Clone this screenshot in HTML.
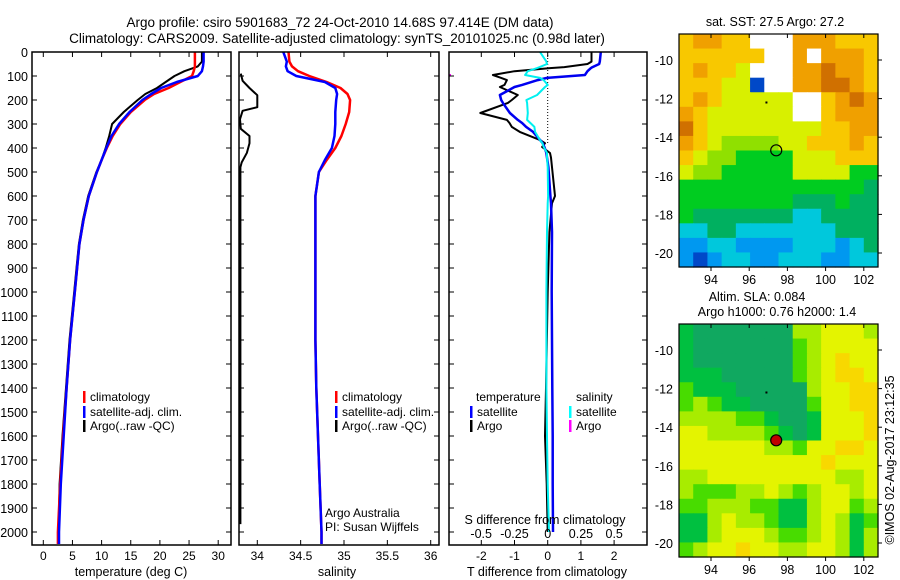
<!DOCTYPE html>
<html><head><meta charset="utf-8"><style>
body{margin:0;background:#fff;}
svg{display:block;font-family:"Liberation Sans",sans-serif;}
text{fill:#000;}
</style></head><body>
<svg id="fig" width="900" height="580" viewBox="0 0 900 580">
<text x="340" y="27" font-size="13.5" text-anchor="middle">Argo profile: csiro 5901683_72 24-Oct-2010 14.68S 97.414E (DM data)</text>
<text x="337" y="43" font-size="13.5" text-anchor="middle">Climatology: CARS2009. Satellite-adjusted climatology: synTS_20101025.nc (0.98d later)</text>
</svg>
<script>
// ---------- data ----------
const depths = [0,40,60,80,100,125,150,175,200,250,300,350,400,450,500,600,700,800,900,1000,1200,1400,1600,1800,2000,2050];
const tempClim = [26.0,26.0,26.0,25.8,25.5,23.5,21.5,19.0,17.4,15.0,13.2,11.9,10.9,10.0,9.2,7.8,6.9,6.2,5.8,5.4,4.6,4.0,3.4,2.9,2.5,2.5];
const tempSat = [27.5,27.5,27.4,27.2,26.5,22.9,20.2,18.5,17.0,14.8,13.0,11.7,10.8,10.0,9.2,7.8,6.9,6.2,5.8,5.4,4.6,4.0,3.5,3.0,2.7,2.7];
const tempArgo = [27.2,27.2,26.5,24.2,22.5,21.0,19.5,17.5,16.2,13.8,11.8,11.3,10.7,10.0,9.1,7.7,6.8,6.1,5.7,5.3,4.5,3.9,3.3,2.8,2.6,2.6];
const salClim = [34.36,34.37,34.40,34.47,34.60,34.80,34.96,35.04,35.07,35.06,35.02,34.97,34.90,34.80,34.71,34.67,34.67,34.67,34.67,34.67,34.67,34.68,34.70,34.72,34.74,34.74];
const salSat = [34.30,34.34,34.33,34.35,34.45,34.78,34.90,34.92,34.91,34.90,34.90,34.89,34.86,34.78,34.71,34.67,34.67,34.67,34.67,34.67,34.67,34.68,34.70,34.72,34.74,34.74];
const salArgoDepths = [90,120,150,180,230,245,280,320,350,380,420,460,480,1000,1500,1967];
const salArgo = [33.81,33.83,33.91,34.0,34.0,33.83,33.80,33.81,33.91,33.91,33.88,33.82,33.805,33.805,33.805,33.805];
const diffDepths = [0,40,50,63,67,80,96,108,117,137,146,179,200,212,254,283,296,312,333,367,380,396,421,440,480,600,630,750,1000,1400,1600,1800,2000];
const dTArgo = [1.32,1.32,1.2,0.5,0.07,-1.0,-1.65,-1.4,-1.23,-1.3,-1.44,-0.9,-1.08,-1.2,-2.03,-1.23,-1.15,-1.08,-0.84,-0.23,-0.08,-0.17,0.07,0.1,0.13,0.22,0.13,0.05,0.0,-0.05,-0.08,-0.03,0.0];
const dTSat = [1.6,1.57,1.55,1.35,1.3,1.2,1.12,-0.02,-0.3,-0.77,-1.0,-1.44,-1.4,-1.35,-1.14,-0.9,-0.77,-0.65,-0.44,-0.23,-0.15,-0.1,-0.04,-0.02,0.02,0.08,0.1,0.13,0.12,0.14,0.15,0.15,0.16];
const dSSat = [-0.058,-0.01,-0.005,-0.06,-0.08,-0.15,-0.17,-0.058,-0.03,0.0,-0.02,-0.08,-0.16,-0.155,-0.15,-0.155,-0.13,-0.1,-0.095,-0.058,-0.04,-0.03,-0.005,-0.005,0.0,0.003,0.0,-0.005,-0.01,-0.01,-0.005,0.0,0.01];
const depthTicks = [0,100,200,300,400,500,600,700,800,900,1000,1100,1200,1300,1400,1500,1600,1700,1800,1900,2000];
const tempTicks = [0,5,10,15,20,25,30];
const salTicks = [34,34.5,35,35.5,36];
const salTickLabels = ["34","34.5","35","35.5","36"];
const dTTicks = [-2,-1,0,1,2];
const dSTicks = [-0.5,-0.25,0,0.25,0.5];
const dSTickLabels = ["-0.5","-0.25","0","0.25","0.5"];
const lonTicks = [94,96,98,100,102];
const latTicks = [-10,-12,-14,-16,-18,-20];
const argoLon = 97.414, argoLat = -14.68;
const sstGrid = [
"78877WWW888777",
"777777WW8W8887",
"78776WWW889887",
"777660WW889987",
"78766666WW7898",
"87666666WW7888",
"97666666667788",
"87655556677787",
"76554444666777",
"65544444666644",
"44444444444443",
"44444444333433",
"43333333223333",
"22332222222333",
"11221111222123",
"10122112221122"];
const slaGrid = [
"10000000334443",
"10000000234444",
"10000000234544",
"11100000234554",
"21110000034455",
"23211000024455",
"33332210014445",
"44333321014445",
"44444433244554",
"44444444445444",
"33444444444334",
"32223343234434",
"22333221134423",
"11343321134312",
"11344432234313",
"23445443344313"];
const sstColors = ["#0048c8","#0098f0","#00c8dc","#00b060","#00cc20","#90e000","#d8f000","#f8c800","#f0a000","#d07000"];
const slaColors = ["#10a860","#00c040","#48dc00","#a8ec00","#e4f400","#f8d800"];

// ---------- helpers ----------
const NS = "http://www.w3.org/2000/svg";
const svg = document.getElementById("fig");
function mk(tag, attrs, parent){const e=document.createElementNS(NS,tag);for(const k in attrs)e.setAttribute(k,attrs[k]);(parent||svg).appendChild(e);return e;}
const Y0 = 52, YS = 0.24, YB = 545;
function yD(d){return Y0 + d*YS;}
const xT = v => 43.3 + v*5.83;
const xS = v => 257.3 + (v-34)*86.7;
const xDT = v => 547.7 + v*33.2;
const xDS = v => 547.7 + v*133;

function panel(name, x0, x1){
  const g = mk("g",{});
  
  
  const cp = mk("clipPath",{id:"clip-"+name},g);
  mk("rect",{x:x0,y:Y0,width:x1-x0,height:YB-Y0},cp);
  return g;
}
function frame(g,x0,x1){
  const r = mk("rect",{x:x0,y:Y0,width:x1-x0,height:YB-Y0,fill:"none",stroke:"#000","stroke-width":1.5},g);
  
  
  depthTicks.forEach(d=>{
    mk("line",{x1:x0,x2:x0+5,y1:yD(d),y2:yD(d),stroke:"#000"},g);
    mk("line",{x1:x1,x2:x1-5,y1:yD(d),y2:yD(d),stroke:"#000"},g);
  });
}
function xticks(g,vals,labels,fx,ylab,name){
  vals.forEach((v,i)=>{
    const x=fx(v);
    mk("line",{x1:x,x2:x,y1:YB,y2:YB-5,stroke:"#000"},g);
    mk("line",{x1:x,x2:x,y1:Y0,y2:Y0+5,stroke:"#000"},g);
    if(ylab){
      const t=mk("text",{x:x,y:ylab,"font-size":12,"text-anchor":"middle"},g);
      t.textContent=labels?labels[i]:String(v);
      
      
    }
  });
}
function line(g,name,clip,xs,ys,fx,color,w){
  const pts = xs.map((v,i)=>fx(v).toFixed(1)+","+yD(ys[i]).toFixed(1)).join(" ");
  const p = mk("polyline",{points:pts,fill:"none",stroke:color,"stroke-width":w,"clip-path":"url(#clip-"+clip+")","stroke-linejoin":"round"},g);
  
  
}
function txt(g,name,x,y,s,size,anchor){
  const t=mk("text",{x:x,y:y,"font-size":size||12,"text-anchor":anchor||"start"},g);
  t.textContent=s;
  
  
  return t;
}
function legBar(g,name,x,y,color){
  const r=mk("rect",{x:x,y:y-10,width:2.5,height:12,fill:color},g);
  
  
}

// ---------- panel 1: temperature ----------
const g1 = panel("temperature-panel",32,231);
depthTicks.forEach(d=>txt(g1,"depth-tick-label",28,yD(d)+5,String(d),12.5,"end"));
line(g1,"temp-argo-line","temperature-panel",tempArgo,depths,xT,"#000",2);
line(g1,"temp-climatology-line","temperature-panel",tempClim,depths,xT,"#f00",2.5);
line(g1,"temp-satellite-line","temperature-panel",tempSat,depths,xT,"#00f",2.5);
frame(g1,32,231);
xticks(g1,tempTicks,null,xT,560,"temp-tick-label");
txt(g1,"temperature-axis-title",131,576,"temperature (deg C)",12.5,"middle");
legBar(g1,"legend-climatology-swatch",83,401,"#f00"); txt(g1,"legend-climatology",90,401,"climatology");
legBar(g1,"legend-satellite-swatch",83,416,"#00f"); txt(g1,"legend-satellite",90,416,"satellite-adj. clim.");
legBar(g1,"legend-argo-swatch",83,430,"#000"); txt(g1,"legend-argo",90,430,"Argo(..raw -QC)");

// ---------- panel 2: salinity ----------
const g2 = panel("salinity-panel",239,439);
line(g2,"sal-argo-line","salinity-panel",salArgo,salArgoDepths,xS,"#000",2);
line(g2,"sal-climatology-line","salinity-panel",salClim,depths,xS,"#f00",2.5);
line(g2,"sal-satellite-line","salinity-panel",salSat,depths,xS,"#00f",2.5);
frame(g2,239,439);
xticks(g2,salTicks,salTickLabels,xS,560,"sal-tick-label");
txt(g2,"salinity-axis-title",337,576,"salinity",12.5,"middle");
legBar(g2,"legend-climatology-swatch",335,401,"#f00"); txt(g2,"legend-climatology",342,401,"climatology");
legBar(g2,"legend-satellite-swatch",335,416,"#00f"); txt(g2,"legend-satellite",342,416,"satellite-adj. clim.");
legBar(g2,"legend-argo-swatch",335,430,"#000"); txt(g2,"legend-argo",342,430,"Argo(..raw -QC)");
txt(g2,"argo-australia-label",325,517,"Argo Australia");
txt(g2,"pi-label",325,531,"PI: Susan Wijffels");

// ---------- panel 3: differences ----------
const g3 = panel("difference-panel",449,647);
mk("line",{x1:547.7,x2:547.7,y1:Y0,y2:yD(380),stroke:"#000","stroke-dasharray":"1,2"},g3);
line(g3,"dT-argo-line","difference-panel",dTArgo,diffDepths,xDT,"#000",2);
line(g3,"dT-satellite-line","difference-panel",dTSat,diffDepths,xDT,"#0000f0",2.5);
line(g3,"dS-satellite-line","difference-panel",dSSat,diffDepths,xDS,"#00f0f0",2);
mk("rect",{x:449,y:74,width:2,height:2,fill:"#f0f"},g3);
frame(g3,449,647);
xticks(g3,dTTicks,null,xDT,560,"dT-tick-label");
dSTicks.forEach((v,i)=>txt(g3,"dS-tick-label",xDS(v),538,dSTickLabels[i],12.5,"middle"));
txt(g3,"S-difference-title",545,524,"S difference from climatology",12.5,"middle");
txt(g3,"T-difference-axis-title",547,576,"T difference from climatology",12.5,"middle");
txt(g3,"legend-temperature-heading",476,401,"temperature");
txt(g3,"legend-salinity-heading",576,401,"salinity");
legBar(g3,"legend-T-satellite-swatch",470,416,"#00f"); txt(g3,"legend-T-satellite",477,416,"satellite");
legBar(g3,"legend-T-argo-swatch",470,430,"#000"); txt(g3,"legend-T-argo",477,430,"Argo");
legBar(g3,"legend-S-satellite-swatch",569,416,"#0ff"); txt(g3,"legend-S-satellite",576,416,"satellite");
legBar(g3,"legend-S-argo-swatch",569,430,"#f0f"); txt(g3,"legend-S-argo",576,430,"Argo");

// ---------- maps ----------
function map(name,top,grid,colors,filledMarker){
  const g=mk("g",{});
  
  
  const L=679,R=878,B=top+233;
  const fx=lon=>711+(lon-94)*19.1;
  const fy=lat=>top+26+(-10-lat)*19.3;
  const rows=grid.length, cols=grid[0].length;
  const cw=(R-L)/cols, ch=(B-top)/rows;
  for(let r=0;r<rows;r++)for(let c=0;c<cols;c++){
    const k=grid[r][c];
    const col=k==="W"?"#fff":colors[+k];
    const cell=mk("rect",{x:(L+c*cw).toFixed(2),y:(top+r*ch).toFixed(2),width:(cw+0.6).toFixed(2),height:(ch+0.6).toFixed(2),fill:col},g);
    
    
  }
  const fr=mk("rect",{x:L,y:top,width:R-L,height:B-top,fill:"none",stroke:"#000","stroke-width":1.2},g);
  
  
  lonTicks.forEach(v=>{
    const x=fx(v);
    mk("line",{x1:x,x2:x,y1:top,y2:top+4,stroke:"#000"},g);
    mk("line",{x1:x,x2:x,y1:B,y2:B+4,stroke:"#000"},g);
    txt(g,"lon-tick-label",x,B+17,String(v),12.5,"middle");
  });
  latTicks.forEach(v=>{
    const y=fy(v);
    mk("line",{x1:R,x2:R+4,y1:y,y2:y,stroke:"#000"},g);
    txt(g,"lat-tick-label",673,y+5,String(v),12.5,"end");
  });
  const m=mk("circle",{cx:fx(argoLon),cy:fy(argoLat),r:5.5,fill:filledMarker?"#c00000":"none",stroke:"#000","stroke-width":1.2},g);
  
  
  mk("rect",{x:fx(96.85),y:fy(-12.15),width:2,height:2,fill:"#000"},g);
}
map("sst-map",34,sstGrid,sstColors,false);
txt(svg,"sst-map-title",775,26,"sat. SST: 27.5 Argo: 27.2",12.5,"middle");
map("sla-map",324,slaGrid,slaColors,true);
txt(svg,"sla-map-title",757,301,"Altim. SLA: 0.084",12.5,"middle");
txt(svg,"sla-map-subtitle",777,316,"Argo h1000: 0.76 h2000: 1.4",12.5,"middle");
const cr=txt(svg,"imos-credit",0,0,"©IMOS 02-Aug-2017 23:12:35",12.5,"middle");
cr.setAttribute("transform","translate(894,460) rotate(-90)");
</script>
</body></html>
